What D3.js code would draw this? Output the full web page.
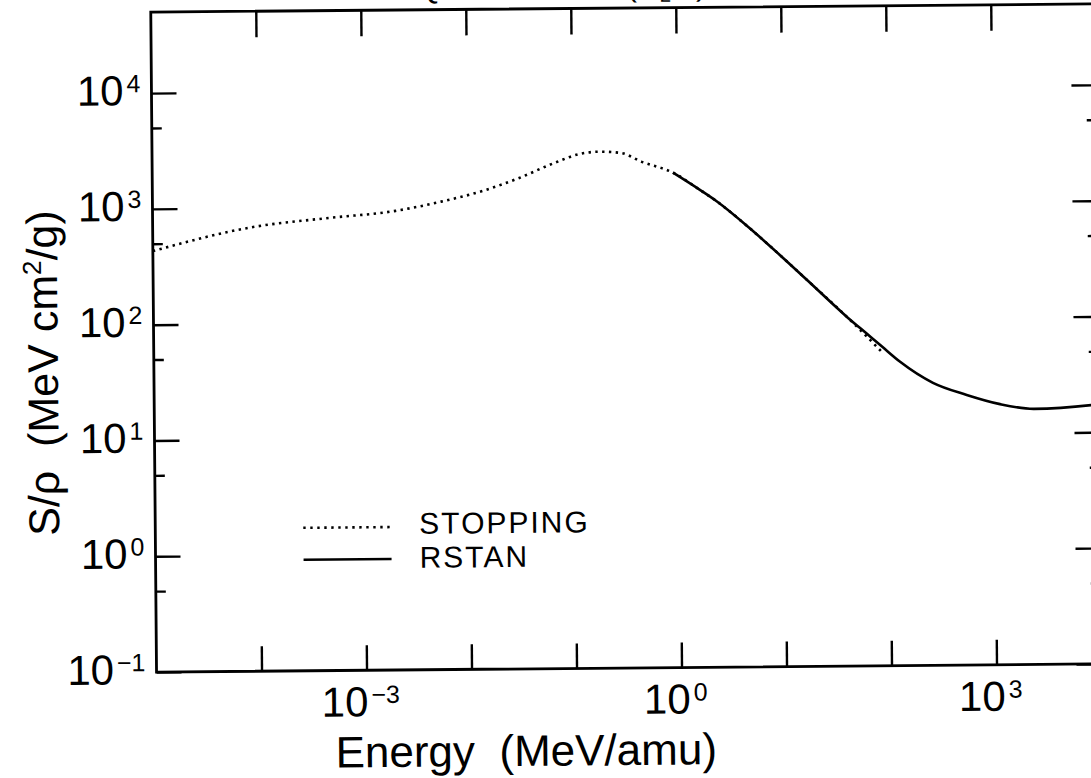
<!DOCTYPE html>
<html><head><meta charset="utf-8">
<script src="https://cdn.jsdelivr.net/npm/d3@7"></script>
<style>
html,body{margin:0;padding:0;background:#fff;}
svg{display:block;}
text{font-family:"Liberation Sans",Arial,Helvetica,sans-serif;fill:#000;white-space:pre;}
</style>
</head><body>
<svg id="chart" width="1091" height="778"></svg>
<script>
// ---- data ----
const stoppingE = [1e-5, 9.5e-5, 4.43e-4, 2.07e-3, 5.62e-3, 1.42e-2, 3.08e-2, 6.65e-2, 0.119, 0.181, 0.293, 0.456, 0.91, 1.64, 2.38, 4.89, 9.8, 16.9, 40, 61.8, 88];
const stoppingS = [432, 690, 805, 922, 1099, 1355, 1726, 2310, 2770, 2885, 2800, 2352, 1879, 1327, 1050, 610, 345, 217, 104, 70, 50];
const rstanE = [0.91, 1.64, 2.38, 4.89, 9.8, 16.9, 40, 61.8, 86.3, 128, 262, 548, 1135, 2390, 8400, 10000];
const rstanS = [1879, 1327, 1050, 610, 345, 217, 104, 74, 57, 42, 27.5, 21.5, 17.8, 16.1, 17.2, 17.5];

const xMajorTicks = [1e-4, 1e-3, 1e-2, 1e-1, 1e0, 1e1, 1e2, 1e3];
const xLabelTicks = [1e-3, 1e0, 1e3];
const xLabelExps = ["\u22123", "0", "3"];
const yMajorTicks = [1e-1, 1e0, 1e1, 1e2, 1e3, 1e4];
const yLabelExps = ["\u22121", "0", "1", "2", "3", "4"];
const yMinorTicks = [5e-1, 5e0, 5e1, 5e2, 5e3];
const legendLabels = ["STOPPING", "RSTAN"];
const xTitle = "Energy  (MeV/amu)";

// ---- layout ----
const L = 154, R = 1099, B = 668, T = 8;
const svg = d3.select("#chart");
const root = svg.append("g").attr("transform", "rotate(-0.5,626,380)");

const x = d3.scaleLog().domain([1e-5, 1e4]).range([L, R]);
const y = d3.scaleLog().domain([0.1, 5e4]).range([B, T]);

// frame
root.append("rect").attr("x", L).attr("y", T).attr("width", R - L).attr("height", B - T)
  .attr("fill", "none").attr("stroke", "#000").attr("stroke-width", 2.8);

function styleAxis(g) {
  g.select(".domain").remove();
  g.selectAll(".tick line").attr("stroke", "#000").attr("stroke-width", 2.4);
  g.selectAll(".tick text").remove();
}
root.append("g").attr("transform", `translate(0,${B})`)
  .call(d3.axisBottom(x).tickValues(xMajorTicks).tickSize(-25).tickFormat(() => "")).call(styleAxis);
root.append("g").attr("transform", `translate(0,${T})`)
  .call(d3.axisTop(x).tickValues(xMajorTicks).tickSize(-26).tickFormat(() => "")).call(styleAxis);
root.append("g").attr("transform", `translate(${L},0)`)
  .call(d3.axisLeft(y).tickValues(yMajorTicks).tickSize(-25).tickFormat(() => "")).call(styleAxis);
root.append("g").attr("transform", `translate(${L},0)`)
  .call(d3.axisLeft(y).tickValues(yMinorTicks).tickSize(-10).tickFormat(() => "")).call(styleAxis);
root.append("g").attr("transform", `translate(${R},0)`)
  .call(d3.axisRight(y).tickValues(yMajorTicks).tickSize(-25).tickFormat(() => "")).call(styleAxis);
root.append("g").attr("transform", `translate(${R},0)`)
  .call(d3.axisRight(y).tickValues(yMinorTicks).tickSize(-10).tickFormat(() => "")).call(styleAxis);

// y tick labels
yMajorTicks.forEach((v, i) => {
  const t = root.append("text").attr("x", 143).attr("y", y(v) + 12)
    .attr("text-anchor", "end").attr("font-size", 42);
  t.append("tspan").text("10");
  t.append("tspan").attr("font-size", 25).attr("dy", -13).attr("dx", 3).text(yLabelExps[i]);
});
// x tick labels
xLabelTicks.forEach((v, i) => {
  const t = root.append("text").attr("x", x(v) - 6).attr("y", 714)
    .attr("text-anchor", "middle").attr("font-size", 42);
  t.append("tspan").text("10");
  t.append("tspan").attr("font-size", 25).attr("dy", -13).attr("dx", 3).text(xLabelExps[i]);
});

// axis titles
root.append("text").attr("x", 523).attr("y", 765).attr("text-anchor", "middle")
  .attr("font-size", 44).text(xTitle);
const yt = root.append("text").attr("transform", "translate(58,368) rotate(-90)")
  .attr("text-anchor", "middle").attr("font-size", 43);
yt.append("tspan").text("S/\u03c1  (MeV cm");
yt.append("tspan").attr("font-size", 26).attr("dy", -16).text("2");
yt.append("tspan").attr("dy", 16).text("/g)");

// title (cut off at the top in the reference)
const tt = root.append("text").attr("x", 710).attr("y", -4).attr("text-anchor", "end").attr("font-size", 32);
tt.append("tspan").text("LIQUID WATER (H");
tt.append("tspan").attr("font-size", 20).attr("dy", 6).text("2");
tt.append("tspan").attr("dy", -6).text("O)");

// curves
svg.append("defs").append("clipPath").attr("id", "plotclip")
  .append("rect").attr("x", L).attr("y", T).attr("width", R - L).attr("height", B - T);
const line = d3.line().x(d => x(d[0])).y(d => y(d[1])).curve(d3.curveMonotoneX);
const plot = root.append("g").attr("clip-path", "url(#plotclip)");
plot.append("path").datum(d3.zip(rstanE, rstanS)).attr("d", line)
  .attr("fill", "none").attr("stroke", "#000").attr("stroke-width", 2.6);
plot.append("path").datum(d3.zip(stoppingE, stoppingS)).attr("d", line)
  .attr("fill", "none").attr("stroke", "#000").attr("stroke-width", 2.6).attr("stroke-dasharray", "2.4 4.4");

// legend
const legY = [525, 557];
const legText = [532, 566];
const legDash = ["2.4 4.6", null];
legendLabels.forEach((lab, i) => {
  const ln = root.append("line").attr("x1", 302).attr("x2", 390).attr("y1", legY[i]).attr("y2", legY[i])
    .attr("stroke", "#000").attr("stroke-width", 2.6);
  if (legDash[i]) ln.attr("stroke-dasharray", legDash[i]);
  root.append("text").attr("x", 418).attr("y", legText[i]).attr("font-size", 30)
    .attr("letter-spacing", 2).text(lab);
});
</script>
</body></html>
